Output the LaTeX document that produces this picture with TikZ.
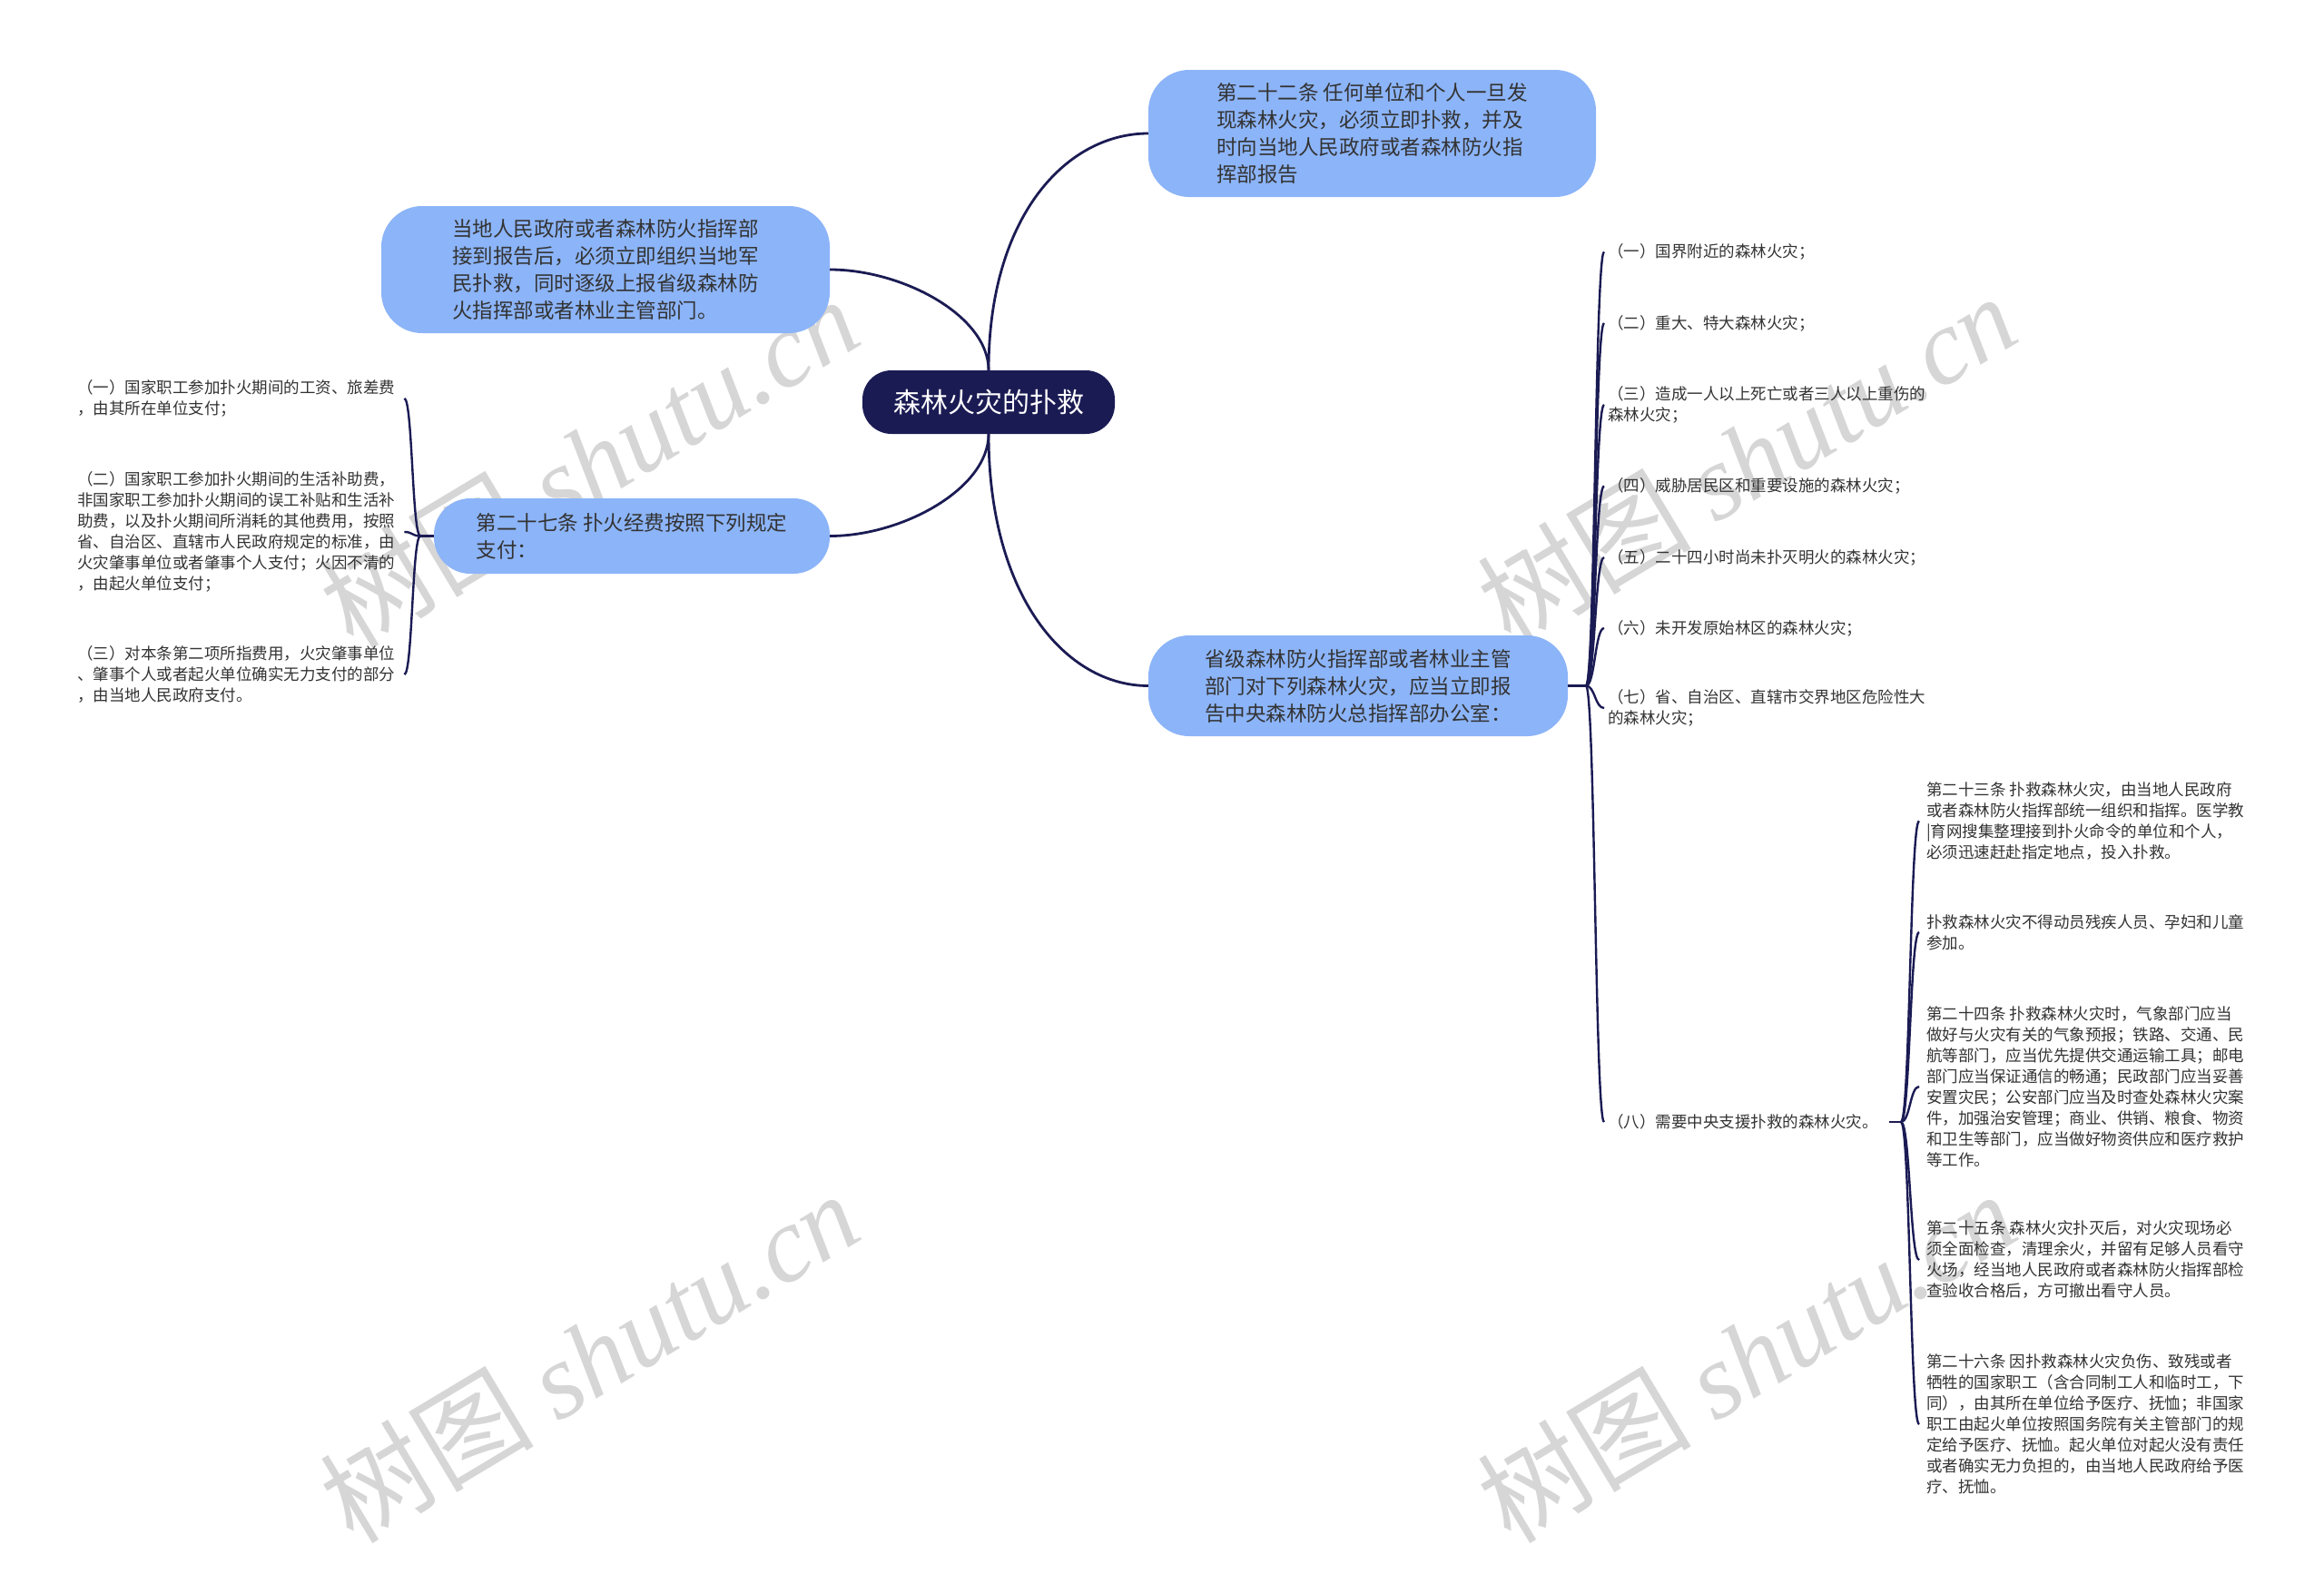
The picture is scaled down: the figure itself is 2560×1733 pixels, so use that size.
\documentclass[tikz,border=0pt]{standalone}
\usepackage{fontspec}
\setmainfont{Noto Sans CJK SC}
\newfontfamily\wmfont{Liberation Serif}
\usetikzlibrary{calc}
\definecolor{navy}{RGB}{27,27,84}
\definecolor{nodeblue}{RGB}{140,180,248}
\definecolor{txt}{RGB}{51,51,51}
\definecolor{wmgray}{RGB}{214,214,214}
\begin{document}
\begin{tikzpicture}[x=1pt,y=-1pt,
  conn/.style={draw=navy, line width=2.8pt},
  brk/.style={draw=navy, line width=2.4pt},
  bignode/.style={fill=nodeblue, rounded corners=45pt, align=left, text=txt,
    font=\fontsize{22.5}{30}\selectfont, inner sep=0pt},
  rootnode/.style={fill=navy, rounded corners=32pt, text=white,
    font=\fontsize{30}{36}\selectfont, inner sep=0pt},
  leaf/.style={anchor=west, align=left, text=txt,
    font=\fontsize{17.5}{23}\selectfont, inner sep=0pt},
  wm/.style={rotate=31, text=wmgray, font=\fontsize{118}{118}\selectfont}
]
\useasboundingbox (0,0) rectangle (2560,1733);
\fill[white] (0,0) rectangle (2560,1733);

% watermarks
\node[wm] (wm1) at (649,508) {树图 {\wmfont\itshape shutu.cn}};
\node[wm] (wm2) at (1924,505) {树图 {\wmfont\itshape shutu.cn}};
\node[wm] (wm3) at (649,1494) {树图 {\wmfont\itshape shutu.cn}};
\node[wm] (wm4) at (1924,1494) {树图 {\wmfont\itshape shutu.cn}};

% main nodes
\node[rootnode, minimum width=278pt, minimum height=70pt] (root) at (1089,443) {森林火灾的扑救};
\node[bignode, minimum width=493pt, minimum height=140pt] (n22) at (1511.5,147)
  {第二十二条 任何单位和个人一旦发\\现森林火灾，必须立即扑救，并及\\时向当地人民政府或者森林防火指\\挥部报告};
\node[bignode, minimum width=494pt, minimum height=140pt] (nlt) at (667,297)
  {当地人民政府或者森林防火指挥部\\接到报告后，必须立即组织当地军\\民扑救，同时逐级上报省级森林防\\火指挥部或者林业主管部门。};
\node[bignode, minimum width=436pt, minimum height=83pt, rounded corners=40pt] (n27) at (696,590.5)
  {第二十七条 扑火经费按照下列规定\\支付：};
\node[bignode, minimum width=462pt, minimum height=111pt] (nprov) at (1496,755.5)
  {省级森林防火指挥部或者林业主管\\部门对下列森林火灾，应当立即报\\告中央森林防火总指挥部办公室：};

% left leaves
\node[leaf] (l1) at (85,439) {（一）国家职工参加扑火期间的工资、旅差费\\，由其所在单位支付；};
\node[leaf] (l2) at (85,586) {（二）国家职工参加扑火期间的生活补助费，\\非国家职工参加扑火期间的误工补贴和生活补\\助费，以及扑火期间所消耗的其他费用，按照\\省、自治区、直辖市人民政府规定的标准，由\\火灾肇事单位或者肇事个人支付；火因不清的\\，由起火单位支付；};
\node[leaf] (l3) at (85,743) {（三）对本条第二项所指费用，火灾肇事单位\\、肇事个人或者起火单位确实无力支付的部分\\，由当地人民政府支付。};

% right list
\node[leaf] (r1) at (1771,277.5) {（一）国界附近的森林火灾；};
\node[leaf] (r2) at (1771,356) {（二）重大、特大森林火灾；};
\node[leaf] (r3) at (1771,446) {（三）造成一人以上死亡或者三人以上重伤的\\森林火灾；};
\node[leaf] (r4) at (1771,535.5) {（四）威胁居民区和重要设施的森林火灾；};
\node[leaf] (r5) at (1771,614) {（五）二十四小时尚未扑灭明火的森林火灾；};
\node[leaf] (r6) at (1771,692) {（六）未开发原始林区的森林火灾；};
\node[leaf] (r7) at (1771,780) {（七）省、自治区、直辖市交界地区危险性大\\的森林火灾；};
\node[leaf] (r8) at (1771,1236) {（八）需要中央支援扑救的森林火灾。};

% sub items
\node[leaf] (s1) at (2122,904.5) {第二十三条 扑救森林火灾，由当地人民政府\\或者森林防火指挥部统一组织和指挥。医学教\\|育网搜集整理接到扑火命令的单位和个人，\\必须迅速赶赴指定地点，投入扑救。};
\node[leaf] (s2) at (2122,1027) {扑救森林火灾不得动员残疾人员、孕妇和儿童\\参加。};
\node[leaf] (s3) at (2122,1197) {第二十四条 扑救森林火灾时，气象部门应当\\做好与火灾有关的气象预报；铁路、交通、民\\航等部门，应当优先提供交通运输工具；邮电\\部门应当保证通信的畅通；民政部门应当妥善\\安置灾民；公安部门应当及时查处森林火灾案\\件，加强治安管理；商业、供销、粮食、物资\\和卫生等部门，应当做好物资供应和医疗救护\\等工作。};
\node[leaf] (s4) at (2122,1388) {第二十五条 森林火灾扑灭后，对火灾现场必\\须全面检查，清理余火，并留有足够人员看守\\火场，经当地人民政府或者森林防火指挥部检\\查验收合格后，方可撤出看守人员。};
\node[leaf] (s5) at (2122,1569) {第二十六条 因扑救森林火灾负伤、致残或者\\牺牲的国家职工（含合同制工人和临时工，下\\同），由其所在单位给予医疗、抚恤；非国家\\职工由起火单位按照国务院有关主管部门的规\\定给予医疗、抚恤。起火单位对起火没有责任\\或者确实无力负担的，由当地人民政府给予医\\疗、抚恤。};

% junctions
\coordinate (jl) at (463,590.5);
\coordinate (jr) at (1747,755.5);
\coordinate (js) at (2094,1236);

% main connectors
\draw[conn] (root.north) .. controls +(0,-170) and +(-90,0) .. (n22.west);
\draw[conn] (root.north) .. controls +(0,-60) and +(80,0) .. (nlt.east);
\draw[conn] (root.south) .. controls +(0,60) and +(80,0) .. (n27.east);
\draw[conn] (root.south) .. controls +(0,180) and +(-90,0) .. (nprov.west);

% left bracket
\draw[brk] (n27.west) -- (jl);
\foreach \l in {l1,l2,l3}
  \draw[brk] (jl) .. controls +(-9,0) and +(9,0) .. ([xshift=10pt]\l.east);

% right bracket
\draw[brk] (nprov.east) -- (jr);
\foreach \r in {r1,r2,r3,r4,r5,r6,r7,r8}
  \draw[brk] (jr) .. controls +(10,0) and +(-10,0) .. ([xshift=-4pt]\r.west);

% sub bracket
\draw[brk] ([xshift=12pt]r8.east) -- (js);
\foreach \s in {s1,s2,s3,s4,s5}
  \draw[brk] (js) .. controls +(10,0) and +(-10,0) .. ([xshift=-8pt]\s.west);
\end{tikzpicture}
\end{document}
